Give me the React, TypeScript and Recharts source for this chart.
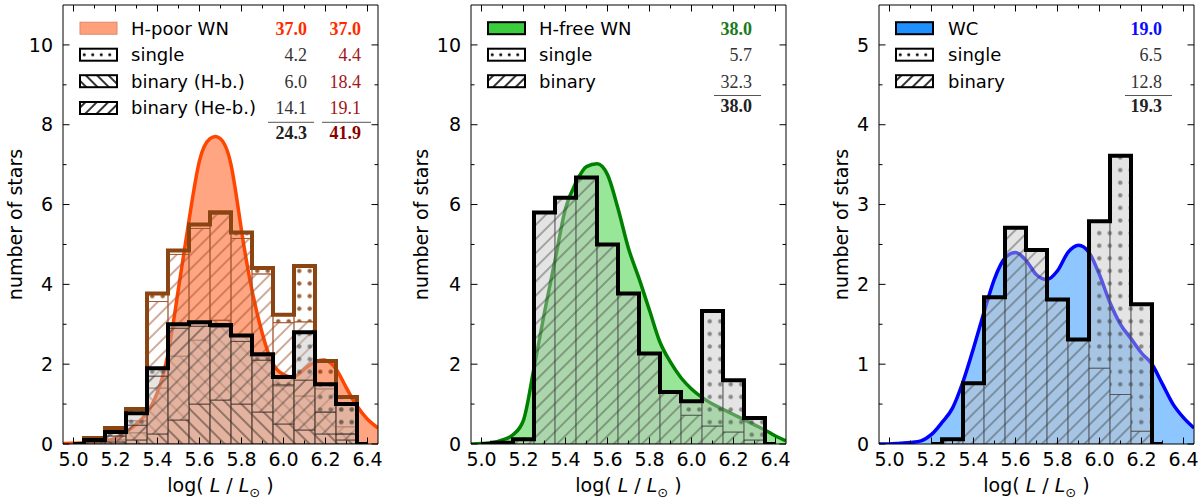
import React from "react";
import { ComposedChart, Bar, Area, Line, XAxis, YAxis } from "recharts";

// luminosity bins (centres, width 0.1)
const bins = [5.0, 5.1, 5.2, 5.3, 5.4, 5.5, 5.6, 5.7, 5.8, 5.9, 6.0, 6.1, 6.2, 6.3, 6.4];
// grid of the smoothed distributions
const kdeGrid = [
  4.95, 5.0, 5.05, 5.1, 5.15, 5.2, 5.25, 5.3, 5.35, 5.4, 5.45, 5.5, 5.55, 5.6, 5.65, 5.7,
  5.75, 5.8, 5.85, 5.9, 5.95, 6.0, 6.05, 6.1, 6.15, 6.2, 6.25, 6.3, 6.35, 6.4, 6.45,
];

// H-poor WN
const hpoorKde = [
  0.01, 0.02, 0.03, 0.05, 0.08, 0.15, 0.3, 0.5, 0.78, 1.3, 2.25, 3.9, 5.6, 7.1, 7.65, 7.65,
  7.0, 5.35, 3.85, 2.75, 2.0, 1.74, 1.68, 1.88, 2.05, 2.1, 1.88, 1.4, 0.95, 0.62, 0.4,
];
const hpoorHb = [0, 0, 0.05, 0.1, 0.25, 0.6, 1.0, 1.1, 1.0, 0.8, 0.5, 0.35, 0.25, 0.1, 0];
const hpoorHeb = [0, 0.05, 0.15, 0.37, 1.45, 2.3, 1.95, 1.83, 1.57, 1.3, 0.98, 1.25, 0.55, 0.15, 0];
const hpoorSingle = [0, 0.05, 0.1, 0.3, 0.2, 0.1, 0.1, 0.05, 0.15, 0.15, 0.2, 1.2, 0.7, 0.75, 0];
const hpoorHbAll = [0, 0.05, 0.1, 0.28, 1.4, 2.2, 2.6, 3.1, 2.7, 2.2, 1.45, 1.2, 0.8, 0.25, 0];
const hpoorHebAll = [0, 0.05, 0.2, 0.3, 2.17, 2.55, 2.8, 2.66, 2.45, 2.06, 1.59, 1.86, 0.58, 0.18, 0];
const hpoorSingleAll = [0, 0.05, 0.1, 0.3, 0.2, 0.1, 0.1, 0.05, 0.15, 0.15, 0.2, 1.4, 0.7, 0.75, 0];

// H-free WN
const hfreeKde = [
  0, 0.01, 0.03, 0.1, 0.23, 0.6, 1.9, 3.3, 4.6, 5.9, 6.55, 6.95, 7.02, 6.75, 5.9, 4.9,
  4.15, 3.35, 2.55, 2.05, 1.66, 1.38, 1.17, 1.0, 0.87, 0.74, 0.61, 0.48, 0.35, 0.2, 0.08,
];
const hfreeBinary = [0, 0.03, 0.12, 5.8, 6.17, 6.68, 5.0, 3.77, 2.27, 1.3, 0.72, 0.45, 0.3, 0.1, 0];
const hfreeSingle = [0, 0, 0, 0, 0, 0, 0, 0, 0, 0, 0.35, 2.88, 1.3, 0.55, 0];

// WC
const wcKde = [
  0, 0, 0.01, 0.02, 0.04, 0.12, 0.27, 0.45, 0.78, 1.2, 1.65, 2.07, 2.33, 2.4, 2.3, 2.12,
  2.06, 2.17, 2.4, 2.49, 2.4, 2.12, 1.77, 1.5, 1.32, 1.14, 1.0, 0.75, 0.5, 0.33, 0.2,
];
const wcBinary = [0, 0, 0, 0.06, 0.76, 1.84, 2.71, 2.43, 1.81, 1.31, 0.95, 0.62, 0.16, 0, 0];
const wcSingle = [0, 0, 0, 0, 0, 0, 0, 0, 0, 0, 1.84, 2.99, 1.59, 0, 0];

// axis ticks
const yTicksWN = [0, 1, 2, 3, 4, 5, 6, 7, 8, 9, 10];
const yTicksWC = [0, 0.5, 1, 1.5, 2, 2.5, 3, 3.5, 4, 4.5, 5];

// legend texts
const hpoorLabels = ["H-poor WN", "single", "binary (H-b.)", "binary (He-b.)"];
const hpoorCol1 = ["37.0", "4.2", "6.0", "14.1"];
const hpoorCol2 = ["37.0", "4.4", "18.4", "19.1"];
const hpoorTotals = ["24.3", "41.9"];
const hfreeLabels = ["H-free WN", "single", "binary"];
const hfreeCol = ["38.0", "5.7", "32.3"];
const hfreeTotal = "38.0";
const wcLabels = ["WC", "single", "binary"];
const wcCol = ["19.0", "6.5", "12.8"];
const wcTotal = "19.3";

const SANS = "DejaVu Sans";
const SERIF = "Liberation Serif";

function PatternDefs() {
  const grey = (id: string, rot: number) => (
    <pattern id={id} width={10} height={10} patternUnits="userSpaceOnUse" patternTransform={`rotate(${rot})`}>
      <rect width={10} height={10} fill="#c4c4c4" fillOpacity={0.45} />
      <line x1={5} y1={0} x2={5} y2={10} stroke="#2a2a2a" strokeOpacity={0.65} strokeWidth={1.1} />
    </pattern>
  );
  const brown = (id: string, rot: number) => (
    <pattern id={id} width={10} height={10} patternUnits="userSpaceOnUse" patternTransform={`rotate(${rot})`}>
      <line x1={5} y1={0} x2={5} y2={10} stroke="#a0522d" strokeOpacity={0.9} strokeWidth={1.1} />
    </pattern>
  );
  const leg = (id: string, rot: number) => (
    <pattern id={id} width={8} height={8} patternUnits="userSpaceOnUse" patternTransform={`rotate(${rot})`}>
      <line x1={4} y1={0} x2={4} y2={8} stroke="#000" strokeWidth={1.6} />
    </pattern>
  );
  return (
    <svg width={0} height={0} style={{ position: "absolute" }}>
      <defs>
        {grey("kSlash", 45)}
        {grey("kBack", -45)}
        <pattern id="kDots" width={10.5} height={12.6} patternUnits="userSpaceOnUse">
          <rect width={10.5} height={12.6} fill="#c4c4c4" fillOpacity={0.45} />
          <circle cx={5.25} cy={6.3} r={2.2} fill="#3a3a3a" fillOpacity={0.55} />
        </pattern>
        {brown("bSlash", 45)}
        {brown("bBack", -45)}
        <pattern id="bDots" width={10.5} height={12.6} patternUnits="userSpaceOnUse">
          <circle cx={5.25} cy={6.3} r={2.2} fill="#8b4513" fillOpacity={0.85} />
        </pattern>
        {leg("legSlash", 45)}
        {leg("legBack", -45)}
        <pattern id="legDots" width={8.5} height={12} patternUnits="userSpaceOnUse">
          <circle cx={4.25} cy={6} r={1.5} fill="#000" />
        </pattern>
      </defs>
    </svg>
  );
}

const tickText = { fontFamily: SANS, fontSize: 19, fill: "#000" };

const bottomTick = (props: any) => {
  const { x, y, payload } = props;
  const v = Number(payload.value);
  const major = Math.round(v * 10) % 2 === 0;
  return (
    <g>
      <line x1={x} x2={x} y1={y} y2={y - (major ? 6.5 : 3.5)} stroke="#000" />
      {major && (
        <text x={x} y={y + 9} dy="0.71em" textAnchor="middle" {...tickText}>
          {v.toFixed(1)}
        </text>
      )}
    </g>
  );
};

const topTick = (props: any) => {
  const { x, y, payload } = props;
  const major = Math.round(Number(payload.value) * 10) % 2 === 0;
  return <line x1={x} x2={x} y1={y} y2={y + (major ? 6.5 : 3.5)} stroke="#000" />;
};

const leftTick = (isMajor: (v: number) => boolean) => (props: any) => {
  const { x, y, payload } = props;
  const v = Number(payload.value);
  const major = isMajor(v);
  return (
    <g>
      <line x1={x} x2={x + (major ? 6.5 : 3.5)} y1={y} y2={y} stroke="#000" />
      {major && (
        <text x={x - 10} y={y} dy="0.355em" textAnchor="end" {...tickText}>
          {v}
        </text>
      )}
    </g>
  );
};

const rightTick = (isMajor: (v: number) => boolean) => (props: any) => {
  const { x, y, payload } = props;
  const major = isMajor(Number(payload.value));
  return <line x1={x} x2={x - (major ? 6.5 : 3.5)} y1={y} y2={y} stroke="#000" />;
};

type Seg = { key: string; values: number[]; fill: string };
type Stack = { segs: Seg[]; edge: string; outline: string; xId: string; yId: string };
type Col = { cells: string[]; colors: string[]; bold: boolean[]; total: string; totalColor: string; right: number; line: [number, number] };
type PanelCfg = {
  left: number;
  yWidth: number;
  rightMargin: number;
  yMax: number;
  yTicks: number[];
  yMajor: (v: number) => boolean;
  kde: number[];
  kdeCurve: "monotone" | "natural";
  kdeFill: string;
  kdeOpacity: number;
  kdeStroke: string;
  stacks: Stack[];
  labels: string[];
  patches: string[];
  kdePatchStroke: string;
  kdePatchWidth: number;
  kdePatchFill: string;
  patchX: number;
  textX: number;
  cols: Col[];
  yLabelX: number;
};

function outlineOf(segs: number[][]) {
  const tot = bins.map((_, i) => segs.reduce((s, a) => s + a[i], 0));
  return tot.map((t, i) => (t > 0 || (tot[i - 1] ?? 0) > 0 || (tot[i + 1] ?? 0) > 0 ? +t.toFixed(3) : null));
}

const rowBase = [34.5, 61, 87.5, 114.3];

function Panel({ p }: { p: PanelCfg }) {
  const outlines = p.stacks.map((st) => outlineOf(st.segs.map((s) => s.values)));
  const rows = bins.map((b, i) => {
    const r: Record<string, number | null> = { bin: b };
    p.stacks.forEach((st, si) => {
      st.segs.forEach((sg) => (r[sg.key] = sg.values[i]));
      r[`tot${si}`] = outlines[si][i];
    });
    return r;
  });
  const kdeRows = kdeGrid.map((x, i) => ({ x, y: p.kde[i] }));
  const plotLeft = p.yWidth;
  const plotRight = 400 - p.rightMargin - 1;
  const plotMid = (plotLeft + plotRight) / 2;
  const n = p.labels.length;
  const sepY = rowBase[n - 1] + 8;

  return (
    <div style={{ position: "absolute", left: p.left, top: 0, width: 400, height: 502 }}>
      <ComposedChart
        width={400}
        height={502}
        data={rows}
        margin={{ top: 4, right: p.rightMargin, bottom: 0, left: 0 }}
        barCategoryGap={0}
        barGap={0}
      >
        <XAxis xAxisId="cat" dataKey="bin" type="category" height={58} axisLine={{ stroke: "#000" }} tickLine={false} tickSize={0} tickMargin={0} interval={0} tick={bottomTick} />
        <XAxis xAxisId="top" dataKey="bin" type="category" orientation="top" height={1} axisLine={{ stroke: "#000" }} tickLine={false} tickSize={0} tickMargin={0} interval={0} tick={topTick} />
        <XAxis xAxisId="cat2" dataKey="bin" type="category" hide />
        <XAxis xAxisId="kde" dataKey="x" type="number" domain={[4.95, 6.45]} allowDataOverflow hide />
        <YAxis yAxisId="n" type="number" domain={[0, p.yMax]} ticks={p.yTicks} allowDataOverflow width={p.yWidth} axisLine={{ stroke: "#000" }} tickLine={false} tickSize={0} tickMargin={0} interval={0} tick={leftTick(p.yMajor)} />
        <YAxis yAxisId="right" orientation="right" type="number" domain={[0, p.yMax]} ticks={p.yTicks} allowDataOverflow width={1} axisLine={{ stroke: "#000" }} tickLine={false} tickSize={0} tickMargin={0} interval={0} tick={rightTick(p.yMajor)} />
        <YAxis yAxisId="n2" type="number" domain={[0, p.yMax]} allowDataOverflow hide />

        <Area
          xAxisId="kde"
          yAxisId="n"
          data={kdeRows}
          dataKey="y"
          type={p.kdeCurve}
          fill={p.kdeFill}
          fillOpacity={p.kdeOpacity}
          stroke={p.kdeStroke}
          strokeWidth={3.5}
          dot={false}
          activeDot={false}
          isAnimationActive={false}
        />

        {p.stacks.map((st, si) =>
          st.segs.map((sg) => (
            <Bar
              key={sg.key}
              dataKey={sg.key}
              stackId={`s${si}`}
              xAxisId={st.xId}
              yAxisId={st.yId}
              fill={sg.fill}
              stroke={st.edge}
              strokeWidth={1}
              isAnimationActive={false}
            />
          ))
        )}

        {p.stacks.map((st, si) => (
          <Line
            key={`tot${si}`}
            dataKey={`tot${si}`}
            xAxisId={st.xId}
            yAxisId={st.yId}
            type="step"
            stroke={st.outline}
            strokeWidth={4}
            strokeLinejoin="miter"
            dot={false}
            activeDot={false}
            isAnimationActive={false}
          />
        ))}
      </ComposedChart>

      <svg width={400} height={502} style={{ position: "absolute", left: 0, top: 0, pointerEvents: "none" }}>
        <text
          x={p.yLabelX}
          y={224.5}
          dy="0.355em"
          transform={`rotate(-90 ${p.yLabelX} 224.5)`}
          textAnchor="middle"
          fontFamily={SANS}
          fontSize={19}
        >
          number of stars
        </text>
        <text x={plotMid} y={492} textAnchor="middle" fontFamily={SANS} fontSize={19}>
          log(<tspan fontStyle="italic"> L</tspan> / <tspan fontStyle="italic">L</tspan>
          <tspan dy={5} fontSize={13}>⊙</tspan>
          <tspan dy={-5}> )</tspan>
        </text>

        {p.labels.map((lab, i) => {
          const cy = rowBase[i] - 6.3;
          const kind = p.patches[i];
          return (
            <g key={lab}>
              <svg x={p.patchX} y={cy - 6} width={38} height={13} overflow="visible">
                {kind === "kde" ? (
                  <rect x={0} y={0} width={37} height={12} fill={p.kdePatchFill} stroke={p.kdePatchStroke} strokeWidth={p.kdePatchWidth} />
                ) : (
                  <>
                    <rect x={0} y={0} width={37} height={12} fill={`url(#${kind})`} />
                    <rect x={0} y={0} width={37} height={12} fill="none" stroke="#000" strokeWidth={2} />
                  </>
                )}
              </svg>
              <text x={p.textX} y={rowBase[i]} fontFamily={SANS} fontSize={18} fill="#000">
                {lab}
              </text>
            </g>
          );
        })}

        {p.cols.map((c, ci) => (
          <g key={ci}>
            {c.cells.map((t, i) => (
              <text
                key={i}
                x={c.right}
                y={rowBase[i]}
                textAnchor="end"
                fontFamily={SERIF}
                fontSize={18}
                fontWeight={c.bold[i] ? "bold" : "normal"}
                fill={c.colors[i]}
              >
                {t}
              </text>
            ))}
            <line x1={c.line[0]} x2={c.line[1]} y1={sepY} y2={sepY} stroke="#555" strokeWidth={1} />
            <text x={c.right} y={sepY + 16.5} textAnchor="end" fontFamily={SERIF} fontSize={18} fontWeight="bold" fill={c.totalColor}>
              {c.total}
            </text>
          </g>
        ))}
      </svg>
    </div>
  );
}

const evenMajor = (v: number) => v % 2 === 0;
const intMajor = (v: number) => Number.isInteger(v);

const panels: PanelCfg[] = [
  {
    left: 0,
    yWidth: 63,
    rightMargin: 21,
    yMax: 11,
    yTicks: yTicksWN,
    yMajor: evenMajor,
    kde: hpoorKde,
    kdeCurve: "natural",
    kdeFill: "#ffa07a",
    kdeOpacity: 0.95,
    kdeStroke: "#ff4500",
    stacks: [
      {
        segs: [
          { key: "bHb", values: hpoorHbAll, fill: "url(#bBack)" },
          { key: "bHeb", values: hpoorHebAll, fill: "url(#bSlash)" },
          { key: "bS", values: hpoorSingleAll, fill: "url(#bDots)" },
        ],
        edge: "rgba(160,82,45,0.8)",
        outline: "#8b4513",
        xId: "cat2",
        yId: "n2",
      },
      {
        segs: [
          { key: "kHb", values: hpoorHb, fill: "url(#kBack)" },
          { key: "kHeb", values: hpoorHeb, fill: "url(#kSlash)" },
          { key: "kS", values: hpoorSingle, fill: "url(#kDots)" },
        ],
        edge: "rgba(50,40,35,0.6)",
        outline: "#000",
        xId: "cat",
        yId: "n",
      },
    ],
    labels: hpoorLabels,
    patches: ["kde", "legDots", "legBack", "legSlash"],
    kdePatchStroke: "#d98a6a",
    kdePatchWidth: 1,
    kdePatchFill: "#ffa07a",
    patchX: 80,
    textX: 131,
    cols: [
      {
        cells: hpoorCol1,
        colors: ["#ff2a00", "#333", "#333", "#333"],
        bold: [true, false, false, false],
        total: hpoorTotals[0],
        totalColor: "#222",
        right: 307,
        line: [268, 314],
      },
      {
        cells: hpoorCol2,
        colors: ["#ff2a00", "#a01818", "#a01818", "#a01818"],
        bold: [true, false, false, false],
        total: hpoorTotals[1],
        totalColor: "#8b0000",
        right: 361,
        line: [322, 371],
      },
    ],
    yLabelX: 15,
  },
  {
    left: 400,
    yWidth: 71,
    rightMargin: 13,
    yMax: 11,
    yTicks: yTicksWN,
    yMajor: evenMajor,
    kde: hfreeKde,
    kdeCurve: "monotone",
    kdeFill: "#32cd32",
    kdeOpacity: 0.5,
    kdeStroke: "#008000",
    stacks: [
      {
        segs: [
          { key: "kB", values: hfreeBinary, fill: "url(#kSlash)" },
          { key: "kS", values: hfreeSingle, fill: "url(#kDots)" },
        ],
        edge: "rgba(60,60,60,0.6)",
        outline: "#000",
        xId: "cat",
        yId: "n",
      },
    ],
    labels: hfreeLabels,
    patches: ["kde", "legDots", "legSlash"],
    kdePatchStroke: "#000",
    kdePatchWidth: 2,
    kdePatchFill: "#3ccd3c",
    patchX: 88,
    textX: 139,
    cols: [
      {
        cells: hfreeCol,
        colors: ["#1a7a1a", "#333", "#333"],
        bold: [true, false, false],
        total: hfreeTotal,
        totalColor: "#222",
        right: 352,
        line: [314, 361],
      },
    ],
    yLabelX: 21,
  },
  {
    left: 800,
    yWidth: 79,
    rightMargin: 5,
    yMax: 5.5,
    yTicks: yTicksWC,
    yMajor: intMajor,
    kde: wcKde,
    kdeCurve: "monotone",
    kdeFill: "#1e90ff",
    kdeOpacity: 0.5,
    kdeStroke: "#0000ff",
    stacks: [
      {
        segs: [
          { key: "kB", values: wcBinary, fill: "url(#kSlash)" },
          { key: "kS", values: wcSingle, fill: "url(#kDots)" },
        ],
        edge: "rgba(60,60,60,0.6)",
        outline: "#000",
        xId: "cat",
        yId: "n",
      },
    ],
    labels: wcLabels,
    patches: ["kde", "legDots", "legSlash"],
    kdePatchStroke: "#000",
    kdePatchWidth: 2,
    kdePatchFill: "#1e90ff",
    patchX: 96,
    textX: 148,
    cols: [
      {
        cells: wcCol,
        colors: ["#0a0aff", "#333", "#333"],
        bold: [true, false, false],
        total: wcTotal,
        totalColor: "#222",
        right: 362,
        line: [325, 372],
      },
    ],
    yLabelX: 41,
  },
];

export default function App() {
  return (
    <div style={{ position: "absolute", left: 0, top: 0, width: 1200, height: 502, background: "#fff", fontFamily: SANS }}>
      <PatternDefs />
      {panels.map((p) => (
        <Panel key={p.left} p={p} />
      ))}
    </div>
  );
}
